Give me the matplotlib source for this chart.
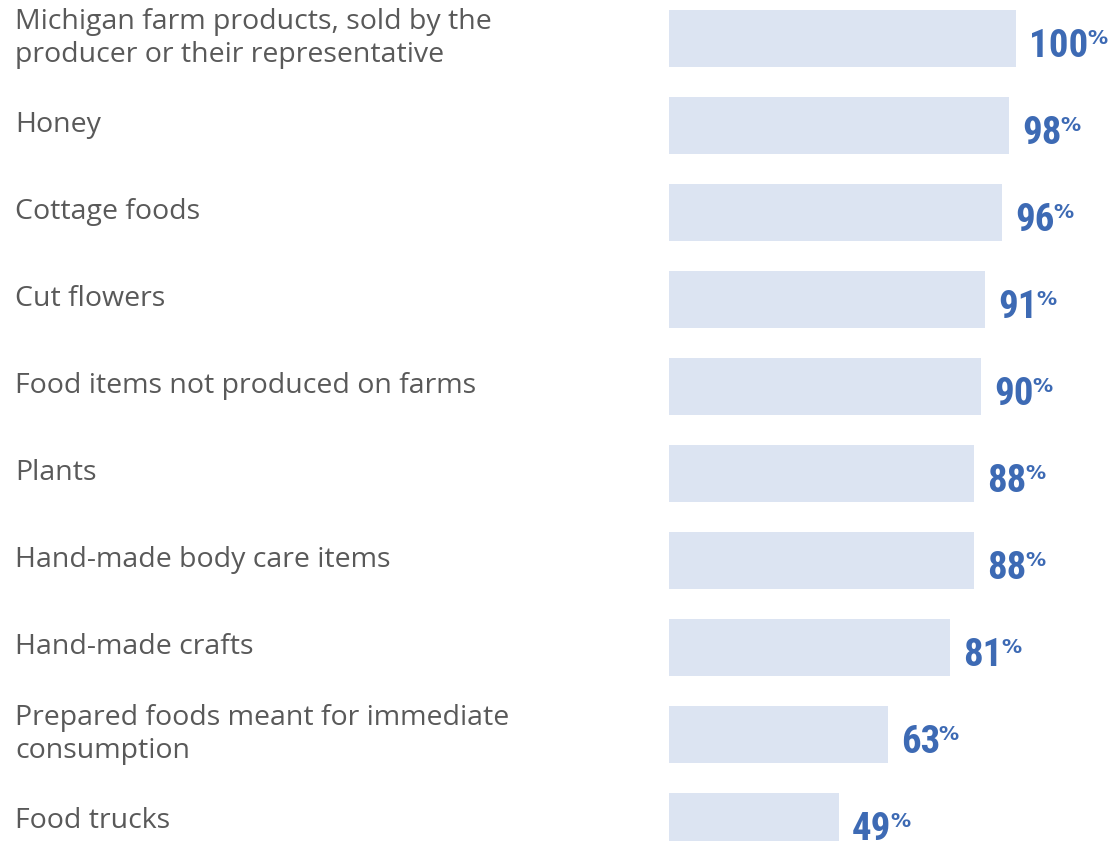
import matplotlib
matplotlib.use('Agg')
import matplotlib.pyplot as plt
from matplotlib import font_manager
from matplotlib.transforms import blended_transform_factory

categories = [
    'Michigan farm products, sold by the\nproducer or their representative',
    'Honey',
    'Cottage foods',
    'Cut flowers',
    'Food items not produced on farms',
    'Plants',
    'Hand-made body care items',
    'Hand-made crafts',
    'Prepared foods meant for immediate\nconsumption',
    'Food trucks',
]
values = [100, 98, 96, 91, 90, 88, 88, 81, 63, 49]

bar_color = '#dce4f2'
num_color = '#3d6ab4'
label_color = '#595959'

# narrow bold face for the percentages if one is installed
names = {f.name for f in font_manager.fontManager.ttflist}
num_family = 'DejaVu Sans'
num_size = 25
for cand, size in [('Liberation Sans Narrow', 29), ('Roboto Condensed', 28),
                   ('Noto Sans Condensed', 27), ('Open Sans Condensed', 28)]:
    if cand in names:
        num_family, num_size = cand, size
        break
pct_size = 14.5

W, H = 1115, 841
fig = plt.figure(figsize=(W / 100, H / 100), dpi=100)
fig.patch.set_facecolor('white')

# axes spans the bar area: 0 at x=669px, 100 at x=1016px
x0, x100 = 669, 1016
ax = fig.add_axes([x0 / W, 0, (x100 - x0) / W, 1])
pitch = 87.0
first = 38.5
ax.set_xlim(0, 100)
ax.set_ylim((H - first) / pitch, -first / pitch)
ax.axis('off')

ypos = list(range(len(values)))
ax.barh(ypos, values, height=57 / pitch, color=bar_color, edgecolor='none')

# category names on the left
label_tr = blended_transform_factory(fig.transFigure, ax.transData)
for y, name in zip(ypos, categories):
    fig.text(15 / W, y, name, transform=label_tr,
             ha='left', va='center', fontsize=20.5, color=label_color,
             family=['Open Sans', 'DejaVu Sans'], linespacing=1.28)

fig.canvas.draw()
renderer = fig.canvas.get_renderer()

base = -13
for y, v in zip(ypos, values):
    t = ax.annotate(str(v), xy=(v, y), xytext=(9.5, base), textcoords='offset points',
                    ha='left', va='baseline', fontsize=num_size, fontweight='bold',
                    fontstretch='condensed', family=num_family, color=num_color,
                    annotation_clip=False)
    bb = t.get_window_extent(renderer)
    # percent sign level with the top of the digits
    xd = ax.transData.transform((v, y))
    dx = (bb.x1 - xd[0]) * 72 / fig.dpi - 1.0
    ax.annotate('%', xy=(v, y), xytext=(dx, base + 0.71 * num_size - 0.73 * pct_size),
                textcoords='offset points', ha='left', va='baseline',
                fontsize=pct_size, fontweight='bold', family='DejaVu Sans',
                color=num_color, annotation_clip=False)

fig.savefig('out.png', dpi=100, facecolor='white')
